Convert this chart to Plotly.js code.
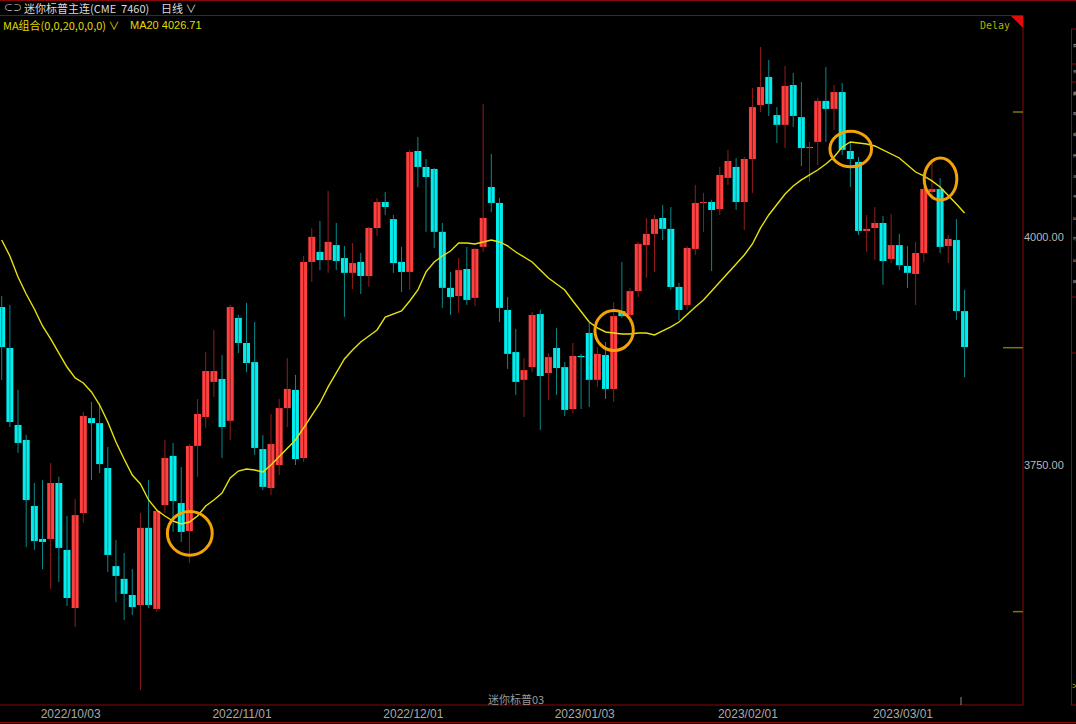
<!DOCTYPE html>
<html>
<head>
<meta charset="utf-8">
<script src="https://cdn.plot.ly/plotly-3.0.1.min.js"></script>
<style>
  html, body { margin: 0; padding: 0; background: #000; }
  #chart { width: 1076px; height: 724px; }
</style>
</head>
<body>
<div id="chart"></div>
<script>
// ---------------- data ----------------
const dates = [
  "2022-09-20","2022-09-21","2022-09-22","2022-09-23","2022-09-26","2022-09-27","2022-09-28","2022-09-29","2022-09-30",
  "2022-10-03","2022-10-04","2022-10-05","2022-10-06","2022-10-07","2022-10-10","2022-10-11","2022-10-12","2022-10-13","2022-10-14",
  "2022-10-17","2022-10-18","2022-10-19","2022-10-20","2022-10-21","2022-10-24","2022-10-25","2022-10-26","2022-10-27","2022-10-28","2022-10-31",
  "2022-11-01","2022-11-02","2022-11-03","2022-11-04","2022-11-07","2022-11-08","2022-11-09","2022-11-10","2022-11-11",
  "2022-11-14","2022-11-15","2022-11-16","2022-11-17","2022-11-18","2022-11-21","2022-11-22","2022-11-23","2022-11-25",
  "2022-11-28","2022-11-29","2022-11-30",
  "2022-12-01","2022-12-02","2022-12-05","2022-12-06","2022-12-07","2022-12-08","2022-12-09","2022-12-12","2022-12-13","2022-12-14",
  "2022-12-15","2022-12-16","2022-12-19","2022-12-20","2022-12-21","2022-12-22","2022-12-23","2022-12-27","2022-12-28","2022-12-29","2022-12-30",
  "2023-01-03","2023-01-04","2023-01-05","2023-01-06","2023-01-09","2023-01-10","2023-01-11","2023-01-12","2023-01-13",
  "2023-01-17","2023-01-18","2023-01-19","2023-01-20","2023-01-23","2023-01-24","2023-01-25","2023-01-26","2023-01-27","2023-01-30","2023-01-31",
  "2023-02-01","2023-02-02","2023-02-03","2023-02-06","2023-02-07","2023-02-08","2023-02-09","2023-02-10","2023-02-13","2023-02-14",
  "2023-02-15","2023-02-16","2023-02-17","2023-02-21","2023-02-22","2023-02-23","2023-02-24","2023-02-27","2023-02-28",
  "2023-03-01","2023-03-02","2023-03-03","2023-03-06","2023-03-07","2023-03-08","2023-03-09","2023-03-10"
];
const open = [
  3923.5,3878.5,3794,3777.5,3705,3668.75,3668.75,3730.25,3656.75,
  3593,3697.25,3801.5,3796,3746.75,3639,3625,3607.25,3596.25,3681,
  3592,3706,3760,3708.25,3677.5,3771,3802.75,3841.25,3844.5,3798.5,3911.5,
  3884,3863,3767.5,3724.75,3750,3812.5,3832.5,3757.75,3973,
  3984,3975,3991.5,3977.25,3961,3973,3957.5,4010.25,4038.75,
  4020,3973,3962,
  4094.75,4077.25,4075,4006,3944.5,3935.5,3965.25,3933.5,3989.5,4055.25,
  4037.75,3920.25,3874,3843.5,3857.5,3915.75,3851,3878.5,3857.5,3811.5,3869.75,
  3895,3843.5,3870.75,3833.5,3919,3914.75,3941,3991.5,4003.75,
  4021.25,4009.25,3945.5,3925.75,3987.25,4037.75,4038.75,4031,4065.25,4077.25,4038.75,
  4086,4145.25,4176,4134.25,4123.5,4167.25,4132,4098,4104.75,4149.75,
  4141,4159.5,4094.75,4082.75,4007,4010.25,4015.75,3976.25,3991.5,
  3968.5,3959.75,3982.75,4049.75,4053,3990.5,3997,3919
];
const high = [
  3935.5,3925.75,3832.5,3783,3730.25,3733.5,3752.25,3737,3694,
  3712.75,3808.25,3819.25,3818,3769.75,3667.75,3653.5,3635.75,3697.25,3733.5,
  3701.75,3777.5,3774.25,3747.75,3773,3822.5,3874,3898.25,3870.75,3925.75,3914.75,
  3928,3907,3783,3806,3822.5,3867.5,3849,3979.5,4010.25,
  4018,4051,4015.75,3990.5,3993.75,3982.75,4011.5,4043.25,4049.75,
  4024.5,3989.5,4096,
  4110.25,4086,4076.25,4015.75,3962,3977.25,3989.5,3988.25,4146.5,4091.5,
  4043.25,3934.5,3899.25,3867.5,3918,3920.25,3873,3900.5,3863,3884,3872,
  3906,3879.5,3885,3929,3973,3944.5,3995,4021.25,4024.5,
  4035.5,4033.25,3950,3990.5,4057.5,4048.75,4041.25,4077.25,4096,4087,4088.25,
  4164,4209,4194.75,4143,4188,4180.5,4170.5,4104.75,4153,4187,
  4167.25,4169.5,4104.75,4088.25,4024.5,4033.25,4023.5,4025.5,4003.75,
  3990.5,3995,4055.25,4082.75,4065.25,4002.5,4020,3942.25
];
const low = [
  3843.5,3791.75,3763.25,3660,3656.75,3635.75,3614,3621.5,3595.25,
  3572.25,3686.5,3733.5,3741.25,3632.5,3599.5,3579.75,3585.25,3503,3593,
  3588.5,3697.25,3676.5,3665.5,3642.5,3737,3790.75,3824.75,3757.75,3777.5,3873,
  3852,3761,3722.5,3717,3739,3791.75,3750,3753.25,3951,
  3964,3961,3964,3912.5,3943.25,3937.75,3945.5,4001.5,4024.5,
  3961,3940,3942.25,
  4055.25,4006,3988.25,3922.5,3914.75,3917,3925.75,3924.5,3984,4027.75,
  3907,3855.5,3827,3802.75,3852,3788.5,3821.5,3827,3803.75,3807,3811.5,
  3813.75,3835.75,3822.5,3819.25,3911.5,3906,3934.5,3955.5,3962,
  3997,3942.25,3909.25,3920.25,3980.5,4006,3963,4024.5,4057.5,4030,4008,
  4048.75,4137.5,4133.25,4103.5,4098,4121.25,4078.25,4060.75,4079.5,4104.75,
  4118,4090.5,4055.25,4002.5,3984,3975,3947.75,3971.75,3964,
  3944.5,3925.75,3973,4041,3982.75,3971.75,3909.25,3846.5
];
const close = [
  3879.5,3797.25,3774.25,3711.5,3666.5,3665.5,3730.25,3659,3604,
  3695,3803.75,3796,3751,3651.25,3628.25,3608.5,3594,3681,3596.25,
  3699.5,3757.75,3710.5,3676.5,3771,3806,3853.25,3853.25,3791.75,3923.5,3884,
  3862,3768.75,3726,3773,3812.5,3833.5,3756.5,3973,4000.5,
  3975,3995,3974,3961,3971.75,3957.5,4010.25,4038.75,4033.25,
  3971.75,3962,4093.75,
  4077.25,4066.25,4006,3944.5,3934.5,3964,3931.25,3987.25,4021.25,4037.75,
  3922.5,3872,3841.25,3854.25,3914.75,3847.75,3868.5,3856.5,3810.5,3869.75,3868.5,
  3843.5,3872,3833.5,3913.5,3913.5,3941,3992.75,4003.75,4020,
  4009.25,3945.5,3920.25,3988.25,4037.75,4038.75,4030,4068.5,4083.75,4038.75,4086,
  4143,4165,4146.5,4123.5,4166.25,4133.25,4098,4099.25,4149.75,4141,
  4159.5,4096,4086,4007,4009.25,4015.75,3974,3991.5,3969.5,
  3961,3982.75,4053,4053,3989.5,3998.25,3919,3879.5
];
const ma20 = [
  3997.1,3979.5,3956.5,3937.8,3921.3,3902.7,3888.4,3873.0,3857.6,
  3845.6,3840.1,3830.2,3815.9,3797.2,3775.3,3756.6,3739.0,3729.2,3711.6,
  3700.6,3694.0,3688.5,3685.2,3687.4,3694.0,3705.0,3711.6,3719.3,3735.8,3743.4,
  3745.6,3744.5,3742.3,3750.0,3758.8,3767.6,3777.5,3790.7,3803.8,
  3818.1,3835.7,3851.0,3866.4,3876.3,3885.1,3891.7,3898.3,3912.5,
  3915.8,3919.1,3930.1,
  3942.2,3962.0,3972.9,3979.5,3985.0,3993.8,3993.8,3992.7,3994.9,3997.1,
  3994.9,3990.5,3983.9,3978.4,3972.9,3964.1,3955.4,3948.8,3942.2,3930.1,3918.0,
  3907.0,3900.5,3896.1,3895.0,3893.9,3893.9,3895.0,3895.0,3892.8,
  3897.2,3901.6,3907.0,3915.8,3923.5,3931.2,3941.1,3949.9,3959.8,3969.6,3980.6,
  3992.7,4010.3,4024.5,4035.5,4047.6,4056.4,4063.0,4068.5,4073.9,4080.5,
  4088.2,4099.2,4104.7,4103.6,4102.5,4100.3,4095.9,4091.5,4087.1,
  4079.4,4071.7,4067.4,4061.9,4055.3,4046.5,4036.6,4026.71
];
const tickDates = ["2022-10-03","2022-11-01","2022-12-01","2023-01-03","2023-02-01","2023-03-01"];
const tickLabels = ["2022/10/03","2022/11/01","2022/12/01","2023/01/03","2023/02/01","2023/03/01"];
const priceTicks = [3750, 4000];
const priceTickLabels = ["3750.00", "4000.00"];
const markLevels = [4137.6, 3878.8, 3589.0];          // olive marks on the right edge
const circledDates = ["2022-10-21","2023-01-06","2023-02-17","2023-03-07"];
const circledPrices = [3675, 3897.7, 4097, 4064];
const titleText = "迷你标普主连(CME  7460)";
const periodText = "日线";
const maLegend = "MA组合(0,0,20,0,0,0)";
const maValueText = "MA20 4026.71";
const contractText = "迷你标普03";
const sideChars = ["卖","买","最","现","成","持","日","今","比","内","比","结"];

// ---------------- build traces ----------------
const idx = dates.map((d, i) => i);
const UP = '#ff4040', DOWN = '#00eeee';
const UPW = '#931c1c', DOWNW = '#0b8a8a';

function wickArrays(up) {
  const xs = [], ys = [];
  idx.forEach(i => {
    if ((close[i] >= open[i]) === up) { xs.push(i, i, null); ys.push(low[i], high[i], null); }
  });
  return {xs, ys};
}
function bodyArrays(up) {
  const xs = [], base = [], h = [];
  idx.forEach(i => {
    if ((close[i] >= open[i]) === up) {
      xs.push(i);
      base.push(Math.min(open[i], close[i]));
      h.push(Math.abs(close[i] - open[i]));
    }
  });
  return {xs, base, h};
}
const wU = wickArrays(true), wD = wickArrays(false);
const bU = bodyArrays(true), bD = bodyArrays(false);

const traces = [
  {type: 'scatter', mode: 'lines', x: wU.xs, y: wU.ys, line: {color: UPW, width: 1}, hoverinfo: 'skip'},
  {type: 'scatter', mode: 'lines', x: wD.xs, y: wD.ys, line: {color: DOWNW, width: 1}, hoverinfo: 'skip'},
  {type: 'bar', x: bU.xs, base: bU.base, y: bU.h, width: 0.85, marker: {color: UP, line: {width: 0}}, hoverinfo: 'skip'},
  {type: 'bar', x: bD.xs, base: bD.base, y: bD.h, width: 0.85, marker: {color: DOWN, line: {width: 0}}, hoverinfo: 'skip'},
  {type: 'scatter', mode: 'lines', x: idx, y: ma20, line: {color: '#e6e20c', width: 1.4}, hoverinfo: 'skip'}
];

// ---------------- layout helpers (pixel -> paper) ----------------
const PL = 0, PR = 1023, PT = 16, PB = 705;
const px = x => (x - PL) / (PR - PL);
const py = y => (PB - y) / (PB - PT);
const BORDER = '#8a0808';

function hline(y, x0, x1, color, w) {
  return {type: 'line', xref: 'paper', yref: 'paper', x0: px(x0), x1: px(x1), y0: py(y), y1: py(y), line: {color: color || BORDER, width: w || 1}};
}
function vline(x, y0, y1, color, w) {
  return {type: 'line', xref: 'paper', yref: 'paper', x0: px(x), x1: px(x), y0: py(y0), y1: py(y1), line: {color: color || BORDER, width: w || 1}};
}

const shapes = [
  hline(0.5, 0, 1076),
  hline(15.5, 0, 1023),
  hline(705, 0, 1023),
  hline(705, 1071, 1076),
  hline(722.5, 0, 1076),
  vline(1023, 15.5, 705),
  vline(1071.5, 29, 705),
  hline(29, 1071, 1076), hline(64, 1071, 1076), hline(82, 1071, 1076), hline(297, 1071, 1076), hline(353, 1071, 1076),
  {type: 'path', xref: 'paper', yref: 'paper', path: `M ${px(1011)} ${py(16)} L ${px(1023)} ${py(16)} L ${px(1023)} ${py(28)} Z`, fillcolor: '#e00c0c', line: {width: 0}},
  vline(961, 697, 705, '#8a8a8a')
];
markLevels.forEach((v, k) => {
  shapes.push({type: 'line', xref: 'paper', yref: 'y', x0: px(k === 1 ? 1003 : 1013), x1: 1, y0: v, y1: v, line: {color: '#78780a', width: 1.5}});
});
// orange circles around the marked candles
const cW = [2.75, 2.35, 2.55, 2.0];
const cH = [24, 22, 19.5, 23];
circledDates.forEach((d, k) => {
  const i = dates.indexOf(d);
  shapes.push({type: 'circle', xref: 'x', yref: 'y', x0: i - cW[k] + 0.05, x1: i + cW[k] + 0.05,
    y0: circledPrices[k] - cH[k], y1: circledPrices[k] + cH[k], line: {color: '#f2a308', width: 3}});
});

const FONT = 'Liberation Sans, Arial, Noto Sans CJK SC, sans-serif';
const CJK = 'Noto Sans CJK SC, Liberation Sans, sans-serif';
const annotations = [
  {xref: 'paper', yref: 'paper', x: px(2), y: py(8), xanchor: 'left', yanchor: 'middle', showarrow: false,
   text: '⊂⊃', font: {family: FONT, size: 9, color: '#c8c8c8'}},
  {xref: 'paper', yref: 'paper', x: px(22), y: py(8), xanchor: 'left', yanchor: 'middle', showarrow: false,
   text: titleText, font: {family: CJK, size: 11, color: '#dcdcdc'}},
  {xref: 'paper', yref: 'paper', x: px(159), y: py(8), xanchor: 'left', yanchor: 'middle', showarrow: false,
   text: periodText + ' ∨', font: {family: CJK, size: 11, color: '#dcdcdc'}},
  {xref: 'paper', yref: 'paper', x: px(1), y: py(25), xanchor: 'left', yanchor: 'middle', showarrow: false,
   text: maLegend + ' ∨', font: {family: CJK, size: 11, color: '#e0dc00'}},
  {xref: 'paper', yref: 'paper', x: px(128), y: py(25), xanchor: 'left', yanchor: 'middle', showarrow: false,
   text: maValueText, font: {family: FONT, size: 11, color: '#e0dc00'}},
  {xref: 'paper', yref: 'paper', x: px(1012), y: py(26), xanchor: 'right', yanchor: 'middle', showarrow: false,
   text: 'Delay', font: {family: 'DejaVu Sans Mono, Liberation Mono, monospace', size: 10, color: '#b2b000'}},
  {xref: 'paper', yref: 'paper', x: px(486), y: py(699), xanchor: 'left', yanchor: 'middle', showarrow: false,
   text: contractText, font: {family: CJK, size: 11, color: '#9a9a9a'}},
  {xref: 'paper', yref: 'paper', x: px(1070), y: py(686), xanchor: 'left', yanchor: 'middle', showarrow: false,
   text: '>', font: {family: FONT, size: 9, color: '#b2b000'}}
];
// side quote panel: the labels only have a 4px wide strip, so they are drawn very small to stay inside it
const sideY = [46, 72, 94, 114, 134, 155, 176, 197, 218, 239, 260, 281];
sideChars.forEach((c, k) => {
  annotations.push({xref: 'paper', yref: 'paper', x: px(1072.3), y: py(sideY[k]), xanchor: 'left', yanchor: 'middle',
    showarrow: false, borderpad: 0, text: c, font: {family: CJK, size: 3.5, color: '#cfcfcf'}});
});

const layout = {
  width: 1076, height: 724,
  margin: {l: PL, r: 1076 - PR, t: PT, b: 724 - PB, pad: 0},
  paper_bgcolor: '#000', plot_bgcolor: '#000',
  showlegend: false, hovermode: false, barmode: 'overlay',
  xaxis: {
    range: [-0.21, 125.16], showgrid: false, zeroline: false, showline: false, ticks: '',
    tickmode: 'array', tickvals: tickDates.map(d => dates.indexOf(d) - 0.55), ticktext: tickLabels,
    tickfont: {family: FONT, size: 12, color: '#a8a8a8'}, fixedrange: true
  },
  yaxis: {
    range: [3486.5, 4243.0], side: 'right', showgrid: false, zeroline: false, showline: false, ticks: '',
    tickmode: 'array', tickvals: priceTicks, ticktext: priceTickLabels,
    tickfont: {family: FONT, size: 11, color: '#b8b8b8'}, fixedrange: true
  },
  shapes: shapes,
  annotations: annotations
};

Plotly.newPlot('chart', traces, layout, {displayModeBar: false, staticPlot: true});
</script>
</body>
</html>
